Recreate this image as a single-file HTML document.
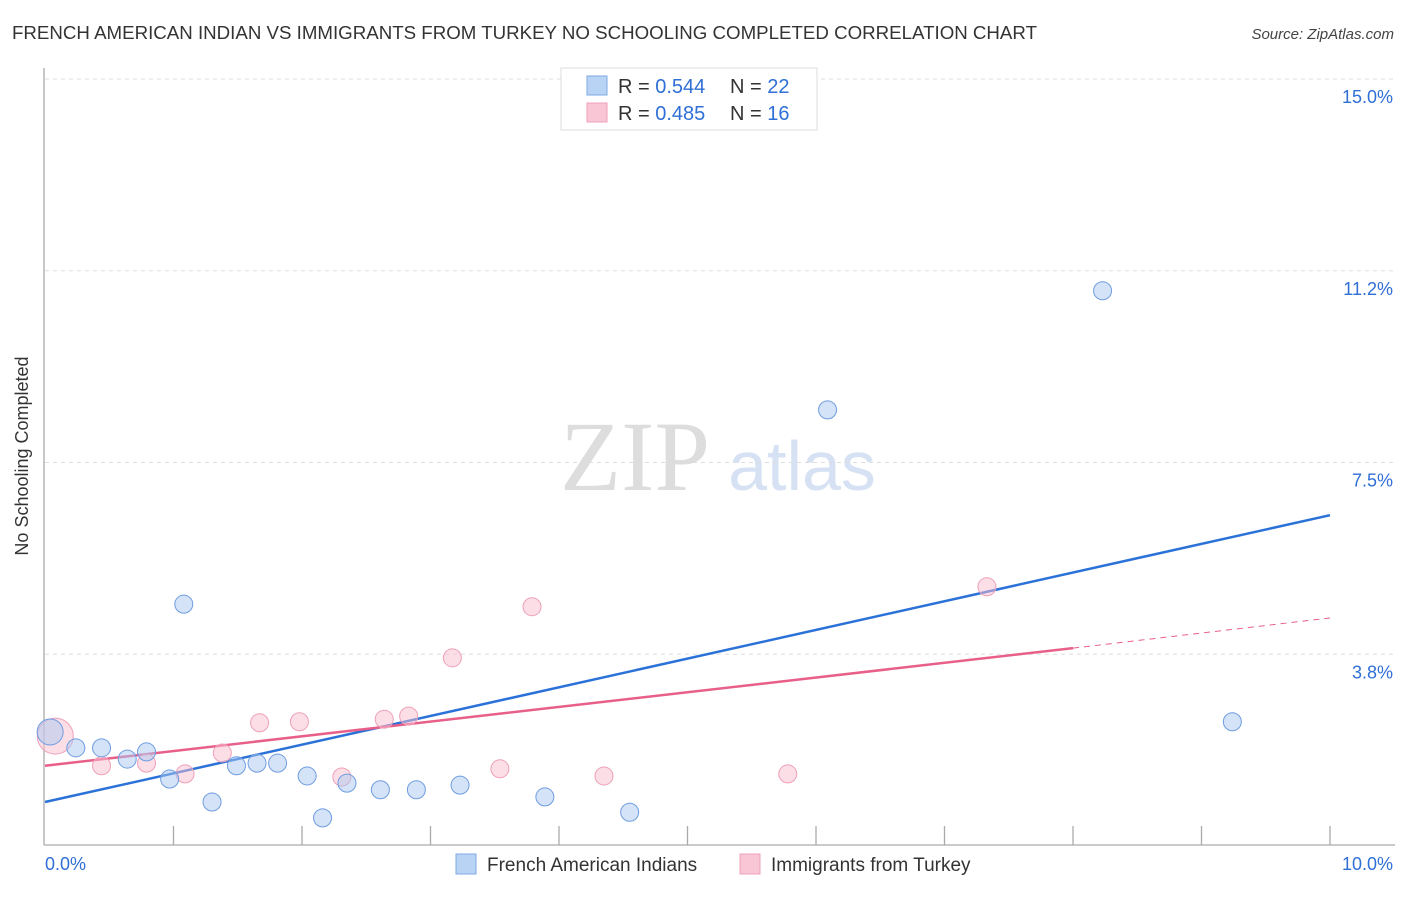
<!DOCTYPE html>
<html><head><meta charset="utf-8"><style>
body{margin:0;background:#fff;width:1406px;height:892px;overflow:hidden;font-family:"Liberation Sans",sans-serif}
</style></head><body>
<svg width="1406" height="892" xmlns="http://www.w3.org/2000/svg">
<text x="12" y="39" font-size="18" fill="#333" textLength="1025" lengthAdjust="spacingAndGlyphs">FRENCH AMERICAN INDIAN VS IMMIGRANTS FROM TURKEY NO SCHOOLING COMPLETED CORRELATION CHART</text>
<text x="1394" y="39" font-size="15" fill="#444" font-style="italic" text-anchor="end">Source: ZipAtlas.com</text>
<text x="28" y="456" font-size="18" fill="#333" text-anchor="middle" transform="rotate(-90 28 456)">No Schooling Completed</text>
<g>
<text x="635" y="490" font-size="100" fill="#ddd" font-family="Liberation Serif,serif" text-anchor="middle">ZIP</text>
<text x="802" y="490" font-size="70" fill="#d6e2f4" text-anchor="middle">atlas</text>
</g>
<g id="grid"></g>
<g id="axes"></g>
<g id="lines"></g>
<g id="pts"></g>
<g>
<rect x="561" y="68" width="256" height="62" fill="#fff" stroke="#ddd"/>
<rect x="587" y="76" width="20" height="19" fill="#b9d3f5" stroke="#7fa8e0"/>
<rect x="587" y="103" width="20" height="19" fill="#f9c6d5" stroke="#eea0b8"/>
<text x="618" y="93" font-size="20" fill="#333">R = <tspan fill="#2f6fd6">0.544</tspan><tspan x="730">N = </tspan><tspan fill="#2f6fd6">22</tspan></text>
<text x="618" y="120" font-size="20" fill="#333">R = <tspan fill="#2f6fd6">0.485</tspan><tspan x="730">N = </tspan><tspan fill="#2f6fd6"> 16</tspan></text>
</g>
<g>
<rect x="456" y="854" width="20" height="20" fill="#b9d3f5" stroke="#7fa8e0"/>
<text x="487" y="871" font-size="19" fill="#333">French American Indians</text>
<rect x="740" y="854" width="20" height="20" fill="#f9c6d5" stroke="#eea0b8"/>
<text x="771" y="871" font-size="19" fill="#333">Immigrants from Turkey</text>
</g>
<text x="45" y="870" font-size="18" fill="#2f6fd6">0.0%</text>
<text x="1393" y="870" font-size="18" fill="#2f6fd6" text-anchor="end">10.0%</text>
</svg>
<script>
const yTicks=[15.0,11.2,7.5,3.8];
const yTickVals=[15,11.25,7.5,3.75];
const blueX=[0.04,0.24,0.44,0.64,0.79,0.97,1.08,1.30,1.49,1.65,1.81,2.04,2.16,2.35,2.61,2.89,3.23,3.89,4.55,6.09,8.23,9.24];
const blueY=[2.23,1.92,1.92,1.70,1.84,1.31,4.73,0.86,1.57,1.62,1.62,1.37,0.55,1.23,1.10,1.10,1.19,0.96,0.66,8.53,10.86,2.43];
const pinkX=[0.08,0.44,0.79,1.09,1.38,1.67,1.98,2.31,2.64,2.83,3.17,3.54,3.79,4.35,5.78,7.33];
const pinkY=[2.15,1.57,1.62,1.41,1.82,2.41,2.43,1.35,2.48,2.54,3.68,1.51,4.68,1.37,1.41,5.07];
const blueLine=[0.86,6.47];
const pinkLine=[1.57,3.87,4.46];
const NS='http://www.w3.org/2000/svg';
const X=v=>45+v*128.5, Y=v=>846-v*51.13;
function mk(p,t,a){const e=document.createElementNS(NS,t);for(const k in a)e.setAttribute(k,a[k]);document.getElementById(p).appendChild(e);return e;}
yTickVals.forEach((v,i)=>{
 const l=mk('grid','line',{x1:45,x2:1395,y1:Y(v),y2:Y(v),stroke:'#ddd','stroke-dasharray':'4 4'});
 
 
 const t=mk('grid','text',{x:1393,y:Y(v)+24,'font-size':18,fill:'#2f6fd6','text-anchor':'end'});
 t.textContent=yTicks[i].toFixed(1)+'%';
 
 
});
mk('axes','line',{x1:44,x2:44,y1:68,y2:845,stroke:'#aaa','stroke-width':1.3});
mk('axes','line',{x1:44,x2:1395,y1:845,y2:845,stroke:'#aaa','stroke-width':1.3});
for(let i=1;i<=10;i++){const t=mk('axes','line',{x1:X(i),x2:X(i),y1:826,y2:845,stroke:'#aaa','stroke-width':1.3});
 
 }
let l=mk('lines','line',{x1:X(0),y1:Y(blueLine[0]),x2:X(10),y2:Y(blueLine[1]),stroke:'#2b72d8','stroke-width':2.5});


l=mk('lines','line',{x1:X(0),y1:Y(pinkLine[0]),x2:X(8),y2:Y(pinkLine[1]),stroke:'#e8608a','stroke-width':2.5});


l=mk('lines','line',{x1:X(8),y1:Y(pinkLine[1]),x2:X(10),y2:Y(pinkLine[2]),stroke:'#e8608a','stroke-width':1,'stroke-dasharray':'6 5'});


pinkX.forEach((x,i)=>{const c=mk('pts','circle',{cx:X(x),cy:Y(pinkY[i]),r:i==0?18:9,fill:'rgba(249,190,208,0.5)',stroke:'#eea0b8','stroke-width':1});
 
 });
blueX.forEach((x,i)=>{const c=mk('pts','circle',{cx:X(x),cy:Y(blueY[i]),r:i==0?13:9,fill:'rgba(170,200,240,0.5)',stroke:'#6f9de0','stroke-width':1});
 
 });
</script>
</body></html>
